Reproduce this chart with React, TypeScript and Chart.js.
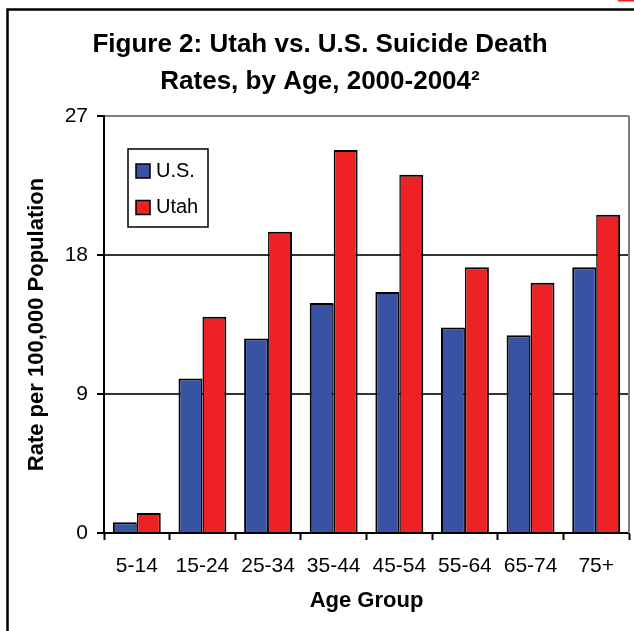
import React, { useEffect, useRef } from "react";
import { Chart, registerables } from "chart.js";

Chart.register(...registerables);

const categories = ["5-14", "15-24", "25-34", "35-44", "45-54", "55-64", "65-74", "75+"];
const usRates = [0.7, 10.0, 12.6, 14.9, 15.6, 13.3, 12.8, 17.2];
const utahRates = [1.3, 14.0, 19.5, 24.8, 23.2, 17.2, 16.2, 20.6];
const yTicks = [0, 9, 18, 27];
const seriesNames = ["U.S.", "Utah"];
const titleLines = ["Figure 2: Utah vs. U.S. Suicide Death", "Rates, by Age, 2000-2004\u00B2"];

const FONT = "'Liberation Sans', Arial, Helvetica, sans-serif";
const BLUE = "#3953A4";
const RED = "#EE2124";

const framePlugin = {
  id: "frame",
  afterLayout(chart: any) {
    const t = chart.titleBlock;
    if (t) {
      t.left = 6;
      t.right = 634;
    }
  },
  beforeDraw(chart: any) {
    const ctx = chart.ctx;
    ctx.save();
    ctx.fillStyle = "#ffffff";
    ctx.fillRect(0, 0, chart.width, chart.height);
    ctx.strokeStyle = "#000000";
    ctx.lineWidth = 2.5;
    ctx.beginPath();
    ctx.moveTo(7.5, chart.height);
    ctx.lineTo(7.5, 9.5);
    ctx.lineTo(chart.width, 9.5);
    ctx.stroke();
    ctx.fillStyle = "#EE2124";
    ctx.fillRect(618, 0, 16, 1.5);
    ctx.restore();
  },
};

const plotBorderPlugin = {
  id: "plotBorder",
  beforeDatasetsDraw(chart: any) {
    const { ctx, chartArea } = chart;
    ctx.save();
    ctx.strokeStyle = "#808080";
    ctx.lineWidth = 2;
    ctx.beginPath();
    ctx.moveTo(chartArea.right, chartArea.top);
    ctx.lineTo(chartArea.right, chartArea.bottom);
    ctx.stroke();
    ctx.restore();
  },
};

const insideLegendPlugin = {
  id: "insideLegend",
  afterDatasetsDraw(chart: any) {
    const { ctx, chartArea } = chart;
    const x = chartArea.left + 24;
    const y = chartArea.top + 33;
    const w = 80;
    const h = 78;
    ctx.save();
    ctx.fillStyle = "#ffffff";
    ctx.fillRect(x, y, w, h);
    ctx.strokeStyle = "#000000";
    ctx.lineWidth = 1.5;
    ctx.strokeRect(x, y, w, h);
    ctx.font = `20px ${FONT}`;
    ctx.textBaseline = "middle";
    ctx.textAlign = "left";
    chart.data.datasets.forEach((ds: any, i: number) => {
      const cy = y + 22 + i * 36.5;
      ctx.fillStyle = ds.backgroundColor;
      ctx.fillRect(x + 8, cy - 7, 14, 14);
      ctx.strokeStyle = "#000000";
      ctx.lineWidth = 1.5;
      ctx.strokeRect(x + 8, cy - 7, 14, 14);
      ctx.fillStyle = "#000000";
      ctx.fillText(ds.label, x + 28, cy);
    });
    ctx.restore();
  },
};

export default function App() {
  const canvasRef = useRef<HTMLCanvasElement | null>(null);

  useEffect(() => {
    if (!canvasRef.current) return;
    const chart = new Chart(canvasRef.current, {
      type: "bar",
      data: {
        labels: categories,
        datasets: [
          {
            label: seriesNames[0],
            data: usRates,
            backgroundColor: BLUE,
            borderColor: "#000000",
            borderWidth: { top: 2, left: 2, right: 1.5, bottom: 0 },
            borderSkipped: false,
          },
          {
            label: seriesNames[1],
            data: utahRates,
            backgroundColor: RED,
            borderColor: "#000000",
            borderWidth: { top: 2, left: 1.5, right: 2, bottom: 0 },
            borderSkipped: false,
          },
        ],
      },
      options: {
        responsive: false,
        animation: false,
        layout: { padding: { left: 0, right: 5, top: 0, bottom: 0 } },
        datasets: {
          bar: { categoryPercentage: 0.73, barPercentage: 1.0 },
        },
        plugins: {
          legend: { display: false },
          tooltip: { enabled: false },
          title: {
            display: true,
            text: titleLines,
            color: "#000000",
            font: { family: FONT, size: 26, weight: "bold", lineHeight: 1.423 },
            padding: { top: 26.5, bottom: 15.5 },
          },
        },
        scales: {
          x: {
            grid: {
              offset: true,
              drawOnChartArea: false,
              drawTicks: true,
              tickLength: 7,
              tickColor: "#000000",
              tickWidth: 2,
            },
            border: { color: "#000000", width: 2 },
            ticks: {
              color: "#000000",
              font: { family: FONT, size: 21 },
              padding: 14,
              maxRotation: 0,
              autoSkip: false,
            },
            title: {
              display: true,
              text: "Age Group",
              color: "#000000",
              font: { family: FONT, size: 22, weight: "bold" },
              padding: { top: 0, bottom: 17 },
            },
            afterFit: (s: any) => {
              s.height = 98;
            },
          },
          y: {
            min: 0,
            max: 27,
            afterBuildTicks: (s: any) => {
              s.ticks = yTicks.map((v) => ({ value: v }));
            },
            grid: {
              color: (c: any) =>
                c.tick && c.tick.value === 27
                  ? "#808080"
                  : c.tick && c.tick.value === 0
                  ? "rgba(0,0,0,0)"
                  : "#333333",
              lineWidth: 2,
              drawTicks: true,
              tickLength: 7,
              tickColor: "#000000",
              tickWidth: 2,
            },
            border: { color: "#000000", width: 2 },
            ticks: {
              color: "#000000",
              font: { family: FONT, size: 21 },
              padding: 9,
            },
            title: {
              display: true,
              text: "Rate per 100,000 Population",
              color: "#000000",
              font: { family: FONT, size: 22, weight: "bold" },
              padding: { top: 24, bottom: 0 },
            },
            afterFit: (s: any) => {
              s.width = 104;
            },
          },
        },
      },
      plugins: [framePlugin, plotBorderPlugin, insideLegendPlugin],
    });
    return () => chart.destroy();
  }, []);

  return (
    <div style={{ position: "absolute", left: 0, top: 0, width: 634, height: 631 }}>
      <canvas ref={canvasRef} width={634} height={631} style={{ display: "block" }} />
    </div>
  );
}
